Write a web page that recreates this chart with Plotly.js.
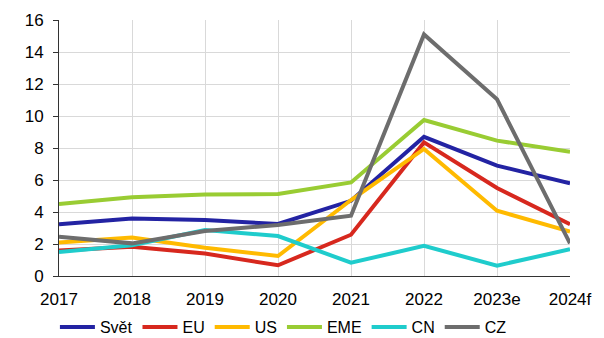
<!DOCTYPE html>
<html>
<head>
<meta charset="utf-8">
<script src="https://cdn.plot.ly/plotly-3.0.1.min.js"></script>
<style>html,body{margin:0;padding:0;background:#fff;}#chart{width:604px;height:338px;}</style>
</head>
<body>
<div id="chart"></div>
<script>
// Inflation by region, % y/y
const years = ["2017", "2018", "2019", "2020", "2021", "2022", "2023e", "2024f"];
const svet = [3.23, 3.6, 3.5, 3.25, 4.7, 8.7, 6.9, 5.8];
const eu   = [1.6, 1.83, 1.4, 0.67, 2.58, 8.35, 5.5, 3.23];
const us   = [2.1, 2.4, 1.77, 1.25, 4.75, 7.94, 4.08, 2.77];
const eme  = [4.5, 4.92, 5.1, 5.12, 5.85, 9.75, 8.46, 7.77];
const cn   = [1.5, 1.92, 2.88, 2.5, 0.83, 1.88, 0.65, 1.67];
const cz   = [2.46, 2.04, 2.81, 3.19, 3.77, 15.1, 11.04, 2.04];
const yTicks = [0, 2, 4, 6, 8, 10, 12, 14, 16];

const series = [
  {name: "Svět", y: svet, color: "#2323A3"},
  {name: "EU",   y: eu,   color: "#D7281E"},
  {name: "US",   y: us,   color: "#FFBA00"},
  {name: "EME",  y: eme,  color: "#99CC33"},
  {name: "CN",   y: cn,   color: "#1FCCCC"},
  {name: "CZ",   y: cz,   color: "#6D6D6D"}
];

const traces = series.map(s => ({
  type: "scatter",
  mode: "lines",
  x: years,
  y: s.y,
  name: s.name,
  line: {color: s.color, width: 4}
}));

const font = {family: "Liberation Sans, Arial, sans-serif", size: 17, color: "#000"};
const legendFont = {family: "Liberation Sans, Arial, sans-serif", size: 16, color: "#000"};

const layout = {
  width: 604,
  height: 338,
  margin: {l: 58.5, r: 34, t: 20, b: 62, autoexpand: false},
  paper_bgcolor: "#fff",
  plot_bgcolor: "#fff",
  font: font,
  showlegend: true,
  legend: {
    orientation: "h",
    x: -0.008, xanchor: "left",
    y: -0.2, yanchor: "middle",
    font: legendFont,
    itemwidth: 35,
    tracegroupgap: 0
  },
  xaxis: {
    type: "category",
    range: [0, 7],
    showgrid: true,
    gridcolor: "#D9D9D9",
    gridwidth: 1,
    showline: true,
    linecolor: "#333",
    linewidth: 1,
    ticks: "",
    ticklabelstandoff: 8,
    tickfont: font,
    zeroline: false
  },
  yaxis: {
    range: [0, 16],
    tickvals: yTicks,
    showgrid: true,
    gridcolor: "#D9D9D9",
    gridwidth: 1,
    showline: true,
    linecolor: "#333",
    linewidth: 1,
    ticks: "outside",
    ticklen: 5,
    tickcolor: "#333",
    ticklabelstandoff: 6,
    tickfont: font,
    zeroline: false
  }
};

Plotly.newPlot("chart", traces, layout, {displayModeBar: false, staticPlot: true});
</script>
</body>
</html>
